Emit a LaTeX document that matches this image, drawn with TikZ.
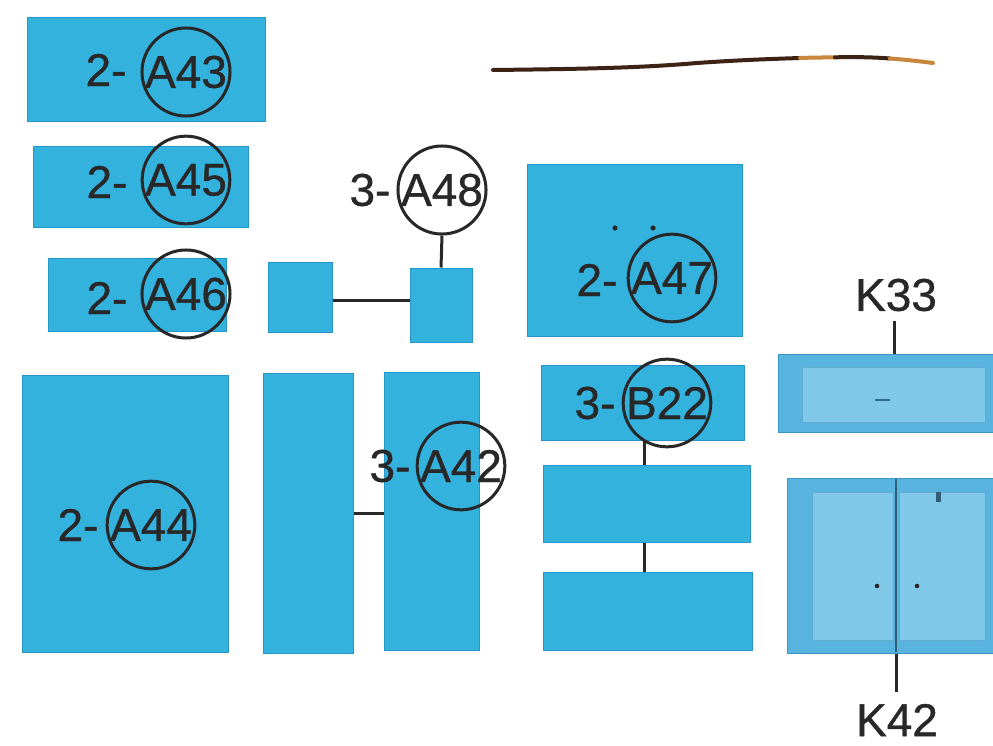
\documentclass[tikz,border=0pt]{standalone}
\usepackage{fontspec}
\setmainfont{Liberation Sans}
\newfontfamily\lblfont[FakeBold=0.8]{Liberation Sans}
\definecolor{boxblue}{RGB}{52,178,222}
\definecolor{boxedge}{RGB}{38,150,200}
\definecolor{kouter}{RGB}{88,180,222}
\definecolor{kinner}{RGB}{128,200,232}
\definecolor{kedge}{RGB}{60,150,200}
\definecolor{ink}{RGB}{40,40,40}
\definecolor{brownd}{RGB}{60,35,22}
\definecolor{browno}{RGB}{200,135,60}
\tikzset{
  bbox/.style={rectangle, fill=boxblue, draw=boxedge, line width=1pt, inner sep=0pt},
  kbox/.style={rectangle, fill=kouter, draw=kedge, line width=1pt, inner sep=0pt},
  kin/.style={fill=kinner, draw=kedge!80, line width=0.8pt},
  lbl/.style={font=\lblfont\fontsize{46}{50}\selectfont, text=ink, inner sep=0pt},
  ring/.style={circle, draw=ink, line width=3pt, minimum size=84pt, inner sep=0pt,
               font=\lblfont\fontsize{46}{50}\selectfont, text=ink},
  wire/.style={draw=ink, line width=3pt},
}
\begin{document}
\begin{tikzpicture}[x=1pt,y=-1pt]
\useasboundingbox (0,0) rectangle (993,746);
\fill[white] (0,0) rectangle (993,746);

% left column
\node[bbox, minimum width=238pt, minimum height=104pt] (a43) at (146,70) {};
\node[lbl] (a43t) at (106,70) {2-};
\node[ring] (a43c) at (186,72) {A43};

\node[bbox, minimum width=215pt, minimum height=81pt] (a45) at (140.5,187.5) {};
\node[lbl] (a45t) at (107,182) {2-};
\node[ring] (a45c) at (186,180) {A45};

\node[bbox, minimum width=178pt, minimum height=73pt] (a46) at (137,294.5) {};
\node[lbl] (a46t) at (107,298) {2-};
\node[ring] (a46c) at (186,294) {A46};

\node[bbox, minimum width=206pt, minimum height=277pt] (a44) at (125,513.5) {};
\node[lbl] (a44t) at (78,525) {2-};
\node[ring] (a44c) at (151,525) {A44};

% small squares with 3-A48
\node[bbox, minimum width=64pt, minimum height=70pt] (s1) at (300,297) {};
\node[bbox, minimum width=62pt, minimum height=74pt] (s2) at (441,305) {};
\draw[wire] (s1.east |- 0,300) -- (s2.west |- 0,300);
\node[lbl] (a48t) at (370,190) {3-};
\node[ring] (a48c) at (442,190) {A48};
\draw[wire] (a48c.south) -- (s2.north);

% tall rectangles with 3-A42
\node[bbox, minimum width=90pt, minimum height=280pt] (t1) at (308,513) {};
\node[bbox, minimum width=95pt, minimum height=278pt] (t2) at (432,511) {};
\draw[wire] (t1.east |- 0,513) -- (t2.west |- 0,513);
\node[lbl] (a42t) at (390,466) {3-};
\node[ring] (a42c) at (461,466) {A42};

% 2-A47
\node[bbox, minimum width=215pt, minimum height=172pt] (a47) at (634.5,250.5) {};
\fill[ink] (615,228) circle (2.6pt) (653,228) circle (2.6pt);
\node[lbl] (a47t) at (597,280) {2-};
\node[ring] (a47c) at (672,278) {A47};

% 3-B22 column
\node[bbox, minimum width=203pt, minimum height=75pt] (b22) at (642.5,402.5) {};
\node[bbox, minimum width=207pt, minimum height=77pt] (b2) at (646.5,503.5) {};
\node[bbox, minimum width=209pt, minimum height=78pt] (b3) at (647.5,611) {};
\node[lbl] (b22t) at (595,403) {3-};
\node[ring] (b22c) at (667,403) {B22};
\draw[wire] (b22.south -| 644,0) -- (b2.north -| 644,0);
\draw[wire] (b2.south -| 644,0) -- (b3.north -| 644,0);

% K33 panel
\node[kbox, minimum width=215pt, minimum height=78pt] (k33) at (885.5,393) {};
\draw[kin] (802,367) rectangle (985,422);
\draw[kedge!60!ink, line width=1.2pt] (875,400) -- (890,400);
\node[lbl] (k33t) at (896,295) {K33};
\draw[wire, shorten <=10pt] (k33t.south -| 894,0) -- (k33.north -| 894,0);

% K42 panel
\node[kbox, minimum width=206pt, minimum height=175pt] (k42) at (890,565.5) {};
\draw[kin] (812,492) rectangle (893,640);
\draw[kin] (899,492) rectangle (985,640);
\draw[kedge!50!ink, line width=1.2pt] (896,479) -- (896,652);
\fill[kedge!50!ink] (936,492) rectangle (941,502);
\fill[ink] (877,586) circle (2.3pt) (917,586) circle (2.3pt);
\node[lbl] (k42t) at (897,720) {K42};
\draw[wire, shorten >=12pt] (k42.south -| 896,0) -- (k42t.north -| 896,0);

% brown wire at top
\draw[brownd, line width=4pt, line cap=round]
  (493,70) .. controls (580,69) and (640,68) .. (697,63)
           .. controls (740,60) and (770,59) .. (800,58);
\draw[browno, line width=4pt, line cap=round]
  (800,58) .. controls (815,57.5) and (825,57.5) .. (835,57.3);
\draw[brownd, line width=4pt, line cap=round]
  (835,57.3) .. controls (855,57) and (870,57) .. (890,58.5);
\draw[browno, line width=4pt, line cap=round]
  (890,58.5) .. controls (910,60) and (925,62) .. (933,63);
\end{tikzpicture}
\end{document}
